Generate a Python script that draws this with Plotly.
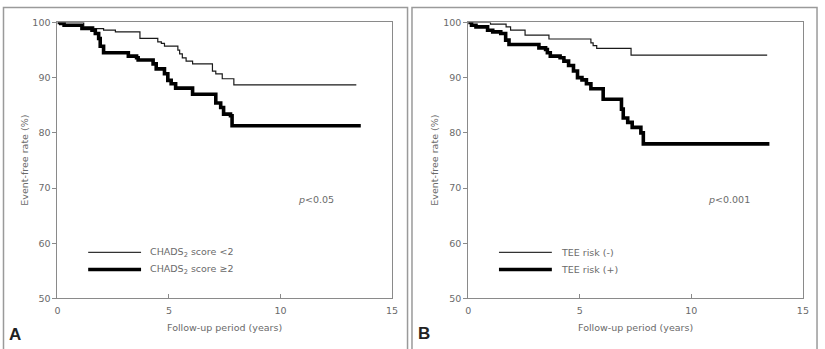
import plotly.graph_objects as go

# ---- data (Kaplan-Meier step curves) ----
a_low_t = [0, 1.18, 1.63, 2.07, 2.6, 3.7, 4.5, 4.66, 4.8, 5.4, 5.48, 5.6, 5.77, 6.06, 6.95, 7.1, 7.39, 7.91, 13.4]
a_low_v = [100, 99.2, 98.9, 98.6, 98.3, 97.1, 96.5, 96.2, 95.7, 95.0, 94.3, 93.6, 93.0, 92.5, 91.2, 90.7, 89.8, 88.7, 88.7]

a_high_t = [0, 0.15, 0.3, 1.1, 1.55, 1.7, 1.85, 1.92, 2.07, 3.18, 3.55, 3.62, 4.29, 4.43, 4.8, 4.95, 5.1, 5.3, 6.06, 7.1, 7.32, 7.45, 7.76, 7.83, 13.6]
a_high_v = [100, 99.8, 99.5, 98.9, 98.6, 98.0, 97.1, 95.7, 94.5, 93.9, 93.6, 93.2, 92.5, 91.6, 90.7, 89.5, 88.9, 88.1, 87.0, 85.4, 84.6, 83.4, 83.1, 81.3, 81.3]

b_low_t = [0, 1.0, 1.7, 1.9, 2.55, 3.62, 5.5, 5.6, 5.76, 7.3, 13.4]
b_low_v = [100, 99.7, 99.2, 98.6, 97.7, 97.0, 96.3, 95.8, 95.3, 94.1, 94.1]

b_high_t = [0, 0.15, 0.35, 0.87, 1.1, 1.46, 1.68, 1.83, 3.17, 3.47, 3.55, 3.68, 4.12, 4.29, 4.5, 4.72, 4.9, 5.1, 5.3, 5.5, 6.05, 6.87, 6.95, 7.15, 7.35, 7.74, 7.85, 13.5]
b_high_v = [100, 99.5, 99.2, 98.6, 98.3, 98.0, 96.8, 96.0, 95.4, 95.1, 94.5, 93.9, 93.6, 93.0, 92.2, 91.2, 90.0, 89.6, 88.9, 88.0, 86.1, 84.3, 82.7, 81.9, 81.0, 80.0, 78.0, 78.0]

x_ticks = [0, 5, 10, 15]
y_ticks = [50, 60, 70, 80, 90, 100]

legend_a = ["CHADS<sub>2</sub> score <2", "CHADS<sub>2</sub> score \u22652"]
legend_b = ["TEE risk (-)", "TEE risk (+)"]
p_a = "<i>p</i><0.05"
p_b = "<i>p</i><0.001"
x_title = "Follow-up period (years)"
y_title = "Event-free rate (%)"

W, H = 825, 349
AX = "#8a8a8a"
TXT = "#6a6a6a"
FONT = "DejaVu Sans"
FS = 9.5

fig = go.Figure()

def add_panel(xa, ya, t_low, v_low, t_high, v_high, name_low, name_high):
    fig.add_trace(go.Scatter(x=t_low, y=v_low, mode="lines", line=dict(color="#1a1a1a", width=1.2, shape="hv"),
                             xaxis=xa, yaxis=ya, name=name_low, showlegend=False, hoverinfo="skip"))
    fig.add_trace(go.Scatter(x=t_high, y=v_high, mode="lines", line=dict(color="#000000", width=3.6, shape="hv"),
                             xaxis=xa, yaxis=ya, name=name_high, showlegend=False, hoverinfo="skip"))

add_panel("x", "y", a_low_t, a_low_v, a_high_t, a_high_v, legend_a[0], legend_a[1])
add_panel("x2", "y2", b_low_t, b_low_v, b_high_t, b_high_v, legend_b[0], legend_b[1])

y_dom = [(H - 302) / H, (H - 17) / H]
xa_dom = [55 / W, 393.3 / W]
xb_dom = [470.3 / W, 808.7 / W]

xcommon = dict(range=[0, 15], tickvals=x_ticks, ticks="inside", ticklen=4, tickcolor=AX,
               showline=True, linecolor=AX, linewidth=1, mirror=True, showgrid=False, zeroline=False,
               tickfont=dict(family=FONT, size=FS, color=TXT), ticklabelstandoff=3, fixedrange=True)
ycommon = dict(range=[50, 100], tickvals=y_ticks, ticks="outside", ticklen=4, tickcolor=AX,
               showline=True, linecolor=AX, linewidth=1, mirror=True, showgrid=False, zeroline=False,
               tickfont=dict(family=FONT, size=FS, color=TXT), fixedrange=True)

fig.update_layout(
    width=W, height=H, margin=dict(l=0, r=0, t=0, b=0),
    paper_bgcolor="white", plot_bgcolor="white", showlegend=False,
    xaxis=dict(domain=xa_dom, anchor="y", **xcommon),
    yaxis=dict(domain=y_dom, anchor="x", **ycommon),
    xaxis2=dict(domain=xb_dom, anchor="y2", **xcommon),
    yaxis2=dict(domain=y_dom, anchor="x2", **ycommon),
)

shapes = []
# outer panel frames
shapes.append(dict(type="rect", xref="paper", yref="paper", x0=0.5 / W, x1=409 / W, y0=-0.05, y1=(H - 1.5) / H,
                   line=dict(color="#9a9a9a", width=1.5)))
shapes.append(dict(type="rect", xref="paper", yref="paper", x0=413.5 / W, x1=823 / W, y0=-0.05, y1=(H - 1.5) / H,
                   line=dict(color="#9a9a9a", width=1.5)))

annotations = []
for xr, yr, labels, ptxt in [("x", "y", legend_a, p_a), ("x2", "y2", legend_b, p_b)]:
    shapes.append(dict(type="line", xref=xr + " domain", yref=yr + " domain", x0=0.092, x1=0.250, y0=0.167, y1=0.167,
                       line=dict(color="#333333", width=1.3)))
    shapes.append(dict(type="line", xref=xr + " domain", yref=yr + " domain", x0=0.092, x1=0.250, y0=0.105, y1=0.105,
                       line=dict(color="#000000", width=3.6)))
    annotations.append(dict(xref=xr + " domain", yref=yr + " domain", x=0.272, y=0.167, text=labels[0], showarrow=False,
                            xanchor="left", yanchor="middle", font=dict(family=FONT, size=FS, color=TXT)))
    annotations.append(dict(xref=xr + " domain", yref=yr + " domain", x=0.272, y=0.105, text=labels[1], showarrow=False,
                            xanchor="left", yanchor="middle", font=dict(family=FONT, size=FS, color=TXT)))
    annotations.append(dict(xref=xr + " domain", yref=yr + " domain", x=0.712, y=0.36, text=ptxt, showarrow=False,
                            xanchor="left", yanchor="middle", font=dict(family=FONT, size=FS, color=TXT)))
    annotations.append(dict(xref=xr + " domain", yref="paper", x=0.5, y=(H - 331.5) / H, text=x_title, showarrow=False,
                            xanchor="center", yanchor="middle", font=dict(family=FONT, size=FS, color=TXT)))

annotations.append(dict(xref="paper", yref="paper", x=21.5 / W, y=(H - 159.5) / H, text=y_title, textangle=-90,
                        showarrow=False, xanchor="center", yanchor="middle", font=dict(family=FONT, size=FS, color=TXT)))
annotations.append(dict(xref="paper", yref="paper", x=436 / W, y=(H - 159.5) / H, text=y_title, textangle=-90,
                        showarrow=False, xanchor="center", yanchor="middle", font=dict(family=FONT, size=FS, color=TXT)))
annotations.append(dict(xref="paper", yref="paper", x=4 / W, y=(H - 339) / H, text="<b>A</b>", showarrow=False,
                        xanchor="left", yanchor="middle", font=dict(family="Liberation Sans", size=17, color="#222222")))
annotations.append(dict(xref="paper", yref="paper", x=418 / W, y=(H - 338) / H, text="<b>B</b>", showarrow=False,
                        xanchor="left", yanchor="middle", font=dict(family="Liberation Sans", size=17, color="#222222")))

fig.update_layout(shapes=shapes, annotations=annotations)
fig.write_html("out.html")
